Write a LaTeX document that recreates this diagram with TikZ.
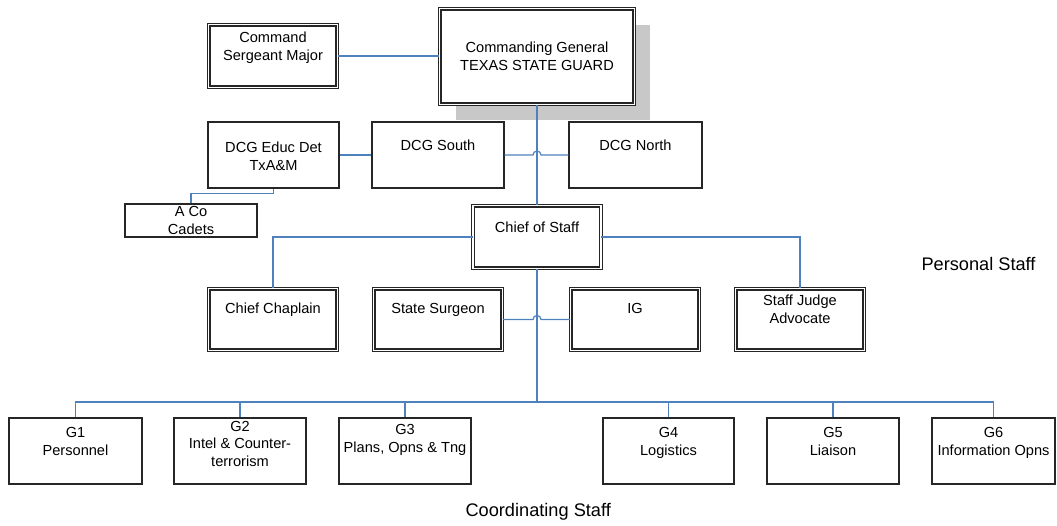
\documentclass[tikz,border=0pt]{standalone}
\usepackage{fontspec}
\setmainfont{Liberation Sans}
\usetikzlibrary{shadows}
\definecolor{linkblue}{RGB}{79,129,189}
\definecolor{shadowgray}{RGB}{200,200,200}
\begin{document}
\begin{tikzpicture}[x=1pt,y=1pt,
        font=\fontsize{14.6}{17.5}\selectfont,
        box/.style={draw=black!85, line width=1.2pt, fill=white, inner sep=0pt, align=center},
        dbox/.style={box, double, double distance=1.5pt},
        sz/.style n args={3}{minimum width=#1pt, text height=#2pt, text depth=#3pt},
        link/.style={draw=linkblue, line width=1.2pt},
        staff/.style={anchor=base west, font=\fontsize{18.2}{22}\selectfont}]
    \useasboundingbox (0,0) rectangle (1057,-525);

    % command group
    \node[dbox, sz={128.6}{35.3}{27.3}] (csm) at (273,-56) {Command\\Sergeant Major};
    \node[dbox, sz={194.6}{61.3}{34.3},
          drop shadow={shadow xshift=16pt, shadow yshift=-16pt, fill=shadowgray, opacity=1}]
          (cg) at (537,-56.5) {Commanding General\\TEXAS STATE GUARD};

    % deputies
    \node[box, sz={131}{48}{18}] (educ) at (273.5,-155) {DCG Educ Det\\TxA\&M};
    \node[box, sz={132}{28.5}{37.5}] (south) at (438,-155) {DCG South};
    \node[box, sz={133}{28.5}{37.5}] (north) at (635.5,-155) {DCG North};
    \node[box, sz={132}{30}{3}] (aco) at (191,-220.5) {A Co\\Cadets};

    % chief of staff and personal staff
    \node[dbox, sz={127.6}{26.3}{36.3}] (cos) at (537,-237) {Chief of Staff};
    \node[dbox, sz={128.6}{24.3}{37.3}] (chap) at (273,-319.5) {Chief Chaplain};
    \node[dbox, sz={128.6}{24.3}{37.3}] (surg) at (438,-319.5) {State Surgeon};
    \node[dbox, sz={128.6}{24.3}{37.3}] (ig) at (635,-319.5) {IG};
    \node[dbox, sz={128.6}{34.3}{27.3}] (sja) at (800,-319.5) {Staff Judge\\Advocate};

    % coordinating staff
    \node[box, sz={133}{37}{29}] (g1) at (75.5,-451) {G1\\Personnel};
    \node[box, sz={132}{48}{18}] (g2) at (240,-451) {G2\\Intel \& Counter-\\terrorism};
    \node[box, sz={132}{34}{32}] (g3) at (405,-451) {G3\\Plans, Opns \& Tng};
    \node[box, sz={131}{37}{29}] (g4) at (668.5,-451) {G4\\Logistics};
    \node[box, sz={132}{37}{29}] (g5) at (833,-451) {G5\\Liaison};
    \node[box, sz={123}{37}{29}] (g6) at (993.5,-451) {G6\\Information Opns};
    \coordinate (bus) at (537,-402);

    \node[staff] (pstaff) at (918,-270) {Personal Staff};
    \node[staff] (cstaff) at (462,-516) {Coordinating Staff};

    % links
    \draw[link] (csm.east) -- (cg.west |- csm.east);
    \draw[link] (cg.south) -- (cos.north);
    \draw[link] (educ.east) -- (south.west);
    \draw[link] (south.east) -- (533,-155) arc[start angle=180, end angle=0, radius=4] -- (north.west);
    \draw[link] (educ.south) -- ++(0,-5) -| (aco.north);
    \draw[link] (cos.west) -| (chap.north);
    \draw[link] (cos.east) -| (sja.north);
    \draw[link] (surg.east) -- (533,-319.5) arc[start angle=180, end angle=0, radius=4] -- (ig.west);
    \draw[link] (cos.south) -- (bus);
    \draw[link] (g1.north) |- (bus) -| (g6.north);
    \foreach \g in {g2,g3,g4,g5}
        \draw[link] (\g.north) -- (\g.north |- bus);
\end{tikzpicture}
\end{document}
